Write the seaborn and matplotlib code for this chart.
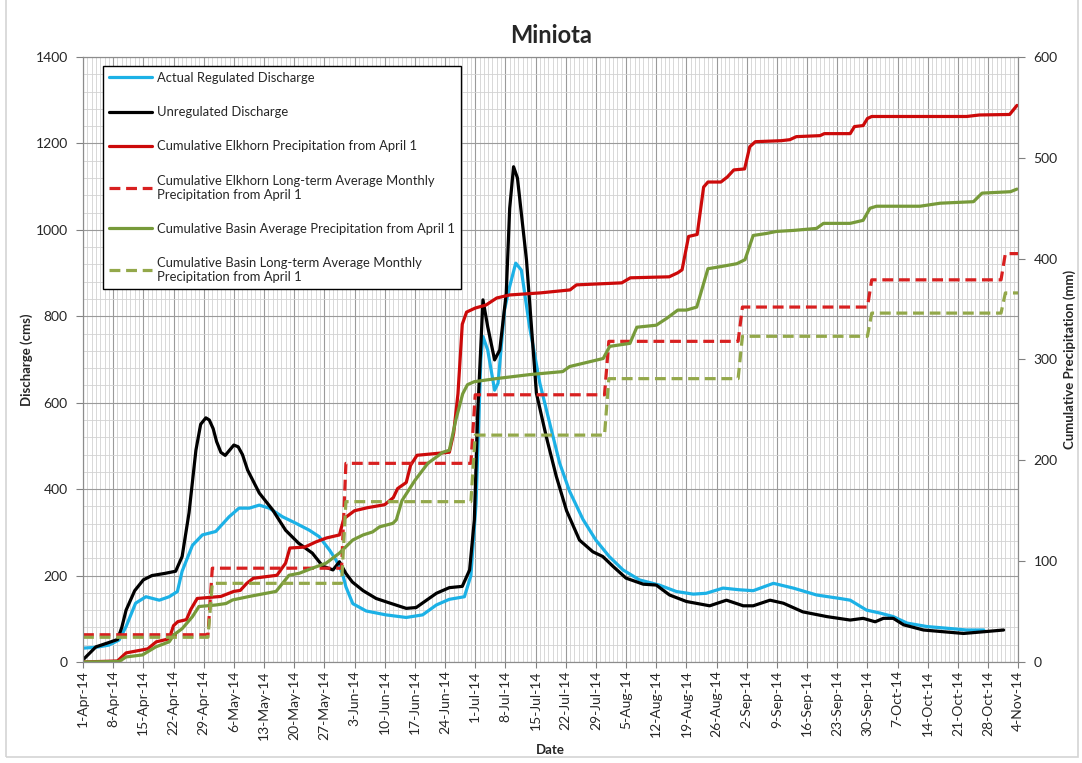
import pandas as pd
import matplotlib
matplotlib.use("Agg")
import matplotlib.pyplot as plt
import matplotlib.dates as mdates
from matplotlib.ticker import MultipleLocator
from matplotlib.patches import Rectangle
import seaborn as sns

# === Data (x = days after 1-Apr-14) ===
start = pd.Timestamp("2014-04-01")
series_end = "2014-11-04"

reg_days = [0, 3, 6, 8.4, 10, 12.2, 14.6, 17.7, 20, 21.9, 23, 25.4, 27.7, 30.8, 33.9, 36.2,
            38.6, 40.9, 43.2, 46.3, 49.4, 52.5, 54.8, 57.2, 58.7, 60.2, 61, 62.6, 65.7, 70.3,
            75, 78.8, 82, 85, 88.5, 90, 91.2, 92.3, 92.8, 93.9, 95.5, 96.3, 97.8, 99, 100.4,
            101.7, 103.6, 106, 108.3, 110.6, 112.9, 116, 119, 122.1, 125.3, 129.1, 133.7,
            137.7, 141.6, 144.6, 148.5, 152.4, 155.5, 160.2, 164.8, 170.2, 175.6, 178, 181.8,
            185, 188, 191.2, 195.8, 200.5, 205, 209]
reg_cms = [32, 34, 39, 51, 82, 136, 151, 143, 151, 163, 210, 270, 294, 302, 336, 356,
           356, 363, 356, 336, 321, 305, 290, 259, 236, 205, 174, 135, 118, 109,
           103, 109, 132, 145, 151, 200, 367, 700, 753, 722, 629, 645, 815, 869, 923,
           907, 776, 645, 552, 460, 395, 330, 282, 244, 213, 190, 178,
           163, 157, 159, 171, 167, 165, 182, 171, 155, 147, 143, 120,
           113, 105, 90, 82, 78, 74, 74]

unreg_days = [0, 1.5, 3, 6, 8, 9, 10, 12, 14, 16, 19, 21.5, 23, 24.6, 26.2, 27.3, 28.5, 29.3,
              30.2, 31, 32, 33, 34, 35, 36, 37, 38.2, 40.9, 44, 47, 50, 53.2, 55.6, 58, 59.5,
              61, 62.5, 65, 68, 71, 75, 77.3, 80, 82, 85, 88, 89.7, 90.8, 91.6, 92.8, 93.9,
              95.5, 96.7, 98.2, 99, 99.9, 100.8, 102.9, 105.2, 107.5, 109.8, 112.2, 115.2,
              118.3, 120.6, 123, 126, 130, 133, 136.1, 140, 145.4, 149.3, 153.2, 155.5, 159.4,
              162.5, 167, 172.6, 178, 181, 183.8, 185.7, 188, 190.4, 195, 199.6, 204.3, 209,
              213.6]
unreg_cms = [5, 20, 35, 45, 52, 80, 120, 165, 190, 200, 205, 210, 244, 345, 490, 550, 565, 560,
             540, 510, 485, 478, 490, 502, 498, 480, 444, 391, 352, 305, 275, 252, 222, 213, 232,
             205, 185, 165, 147, 137, 124, 126, 145, 159, 172, 175, 213, 329, 580, 838, 776,
             699, 722, 853, 1050, 1146, 1120, 930, 622, 521, 430, 350, 282,
             255, 244, 221, 194, 180, 178, 155, 140, 130, 143, 130, 130, 143,
             136, 116, 105, 97, 101, 93, 101, 101, 86, 74, 70, 66, 70,
             74]

elk_days = [0, 8, 10, 15, 17, 20, 21, 22, 24, 25, 26.5, 32, 35, 36.5, 38, 39.5, 45, 47, 48,
            51.5, 54, 56.5, 59.5, 60.5, 63, 66, 70, 72, 73, 75, 76, 77.5, 85, 86, 87, 88, 89,
            91, 93.5, 96, 99, 106, 113, 114.5, 125, 127, 136, 138, 139, 140.5, 142.5, 144,
            145, 148, 149.5, 151, 153.5, 154.7, 156, 162, 164, 165.5, 171, 172, 178, 179,
            181, 182, 183, 205, 208, 215, 216.7]
elk_mm = [0, 1, 9, 13, 20, 23, 36, 40, 42, 52, 63, 65, 70, 71, 78, 83, 86, 98, 113,
          114, 119, 123, 126, 142, 150, 153, 156, 163, 172, 178, 195, 205, 208, 227, 266, 335, 347,
          351, 354, 361, 364, 366, 369, 374, 376, 381, 382, 386, 389, 422, 424, 471,
          476, 476, 481, 488, 489, 511, 516, 517, 518, 521, 522, 524, 524, 531,
          532, 539, 541, 541, 542.5, 543, 552]

basin_days = [0, 8.4, 10, 13.8, 16.9, 20, 21.1, 23, 25.4, 26.9, 30.8, 33.2, 34.7, 38.6, 44.8,
              47.8, 50.2, 53.2, 56.4, 59.5, 62.6, 65, 67.2, 68.8, 71.9, 72.7, 74, 77, 80, 83.5,
              85, 86.5, 88.1, 89.2, 90.8, 95.8, 103.6, 111.3, 112.9, 120.7, 122.2, 126.9, 128.5,
              133, 135.5, 138, 140, 142.4, 145, 147.8, 151.7, 153.6, 155.5, 158.6, 160.9, 164.8,
              170.2, 171.8, 178, 181, 182.6, 184.1, 194.2, 198.9, 206.6, 208.6, 215.2, 216.7]
basin_mm = [0, 0.5, 5, 7, 15, 20, 27, 33, 45, 55, 56.5, 58, 61.5, 65, 70,
            86, 88, 93, 98, 108, 121, 126, 129, 134, 137.5, 141, 160, 180, 197, 208,
            210, 240, 266, 275, 278, 281, 285, 288, 293, 301, 313, 316, 332,
            334, 341, 349, 349, 352, 390, 392, 395, 399, 423, 425, 427, 428,
            430, 435, 435, 438, 450, 452, 452, 455, 456.5, 465, 466.4, 469]

month_starts = ["2014-04-01", "2014-05-01", "2014-06-01", "2014-07-01",
                "2014-08-01", "2014-09-01", "2014-10-01", "2014-11-01"]
elk_lt_mm = [27, 93, 197, 265, 318, 352, 379, 405]
basin_lt_mm = [24.5, 78, 159, 225, 281, 323, 346, 366]

legend_labels = ["Actual Regulated Discharge",
                 "Unregulated Discharge",
                 "Cumulative Elkhorn Precipitation from April 1",
                 "Cumulative Elkhorn Long-term Average Monthly\nPrecipitation from April 1",
                 "Cumulative Basin Average Precipitation from April 1",
                 "Cumulative Basin Long-term Average Monthly\nPrecipitation from April 1"]


def to_dates(days):
    return start + pd.to_timedelta(days, unit="D")


def monthly_steps(values):
    # each month's value held to its last day, jump on the 1st
    starts = pd.to_datetime(month_starts)
    ends = list(starts[1:] - pd.Timedelta(days=1)) + [pd.Timestamp(series_end)]
    x, y = [], []
    for s, e, v in zip(starts, ends, values):
        x += [s, e]
        y += [v, v]
    return pd.DataFrame({"date": x, "mm": y})


# === Style ===
sns.set_theme(style="white")
plt.rcParams["font.family"] = ["Lato", "DejaVu Sans"]

BLUE = "#1cb1e6"
RED = "#cc0a0a"
RED_D = "#d82020"
GREEN = "#779a3a"
GREEN_D = "#93a84a"
LW = 2.3
DASH = (0, (3.4, 1.8))

fig = plt.figure(figsize=(10.82, 7.63), dpi=100)
ax = fig.add_axes([0.0767, 0.1324, 0.8644, 0.7929])
ax2 = ax.twinx()

# === Discharge (left axis) ===
sns.lineplot(x=to_dates(reg_days), y=reg_cms, ax=ax, color=BLUE, lw=LW, legend=False)
sns.lineplot(x=to_dates(unreg_days), y=unreg_cms, ax=ax, color="black", lw=LW, legend=False)

# === Precipitation (right axis) ===
elk_lt = monthly_steps(elk_lt_mm)
basin_lt = monthly_steps(basin_lt_mm)
sns.lineplot(x=to_dates(elk_days), y=elk_mm, ax=ax2, color=RED, lw=LW, legend=False)
sns.lineplot(data=elk_lt, x="date", y="mm", ax=ax2, color=RED_D, lw=LW, linestyle=DASH, legend=False)
sns.lineplot(x=to_dates(basin_days), y=basin_mm, ax=ax2, color=GREEN, lw=LW, legend=False)
sns.lineplot(data=basin_lt, x="date", y="mm", ax=ax2, color=GREEN_D, lw=LW, linestyle=DASH, legend=False)

# === Axes ===
ax.set_xlim(start, pd.Timestamp(series_end))
ax.set_ylim(0, 1400)
ax2.set_ylim(0, 600)
ax.yaxis.set_major_locator(MultipleLocator(200))
ax.yaxis.set_minor_locator(MultipleLocator(40))
ax2.yaxis.set_major_locator(MultipleLocator(100))
ax.xaxis.set_major_locator(mdates.WeekdayLocator(byweekday=mdates.TU))
ax.xaxis.set_minor_locator(mdates.DayLocator())
ax.xaxis.set_major_formatter(mdates.DateFormatter("%-d-%b-%y"))

ax.set_axisbelow(True)
ax.grid(which="major", color="#9a9a9a", lw=0.8)
ax.grid(which="minor", color="#d2d2d2", lw=0.6)
ax2.grid(False)

ax.tick_params(axis="x", which="major", bottom=True, direction="out", length=4, width=0.8,
               color="#808080", labelsize=10, rotation=90, pad=2)
ax.tick_params(axis="y", which="major", left=True, direction="out", length=5, width=0.8,
               color="#808080", labelsize=10, pad=6)
ax.tick_params(which="minor", length=0)
ax2.tick_params(axis="y", which="major", right=True, direction="out", length=5, width=0.8,
                color="#808080", labelsize=10, pad=6)
for a in (ax, ax2):
    for sp in a.spines.values():
        sp.set_color("#8c8c8c")
        sp.set_linewidth(0.8)

ax.set_xlabel("Date", fontsize=9.5, fontweight="bold", labelpad=3)
ax.set_ylabel("Discharge (cms)", fontsize=9.5, fontweight="bold", labelpad=2)
ax2.set_ylabel("Cumulative Precipitation (mm)", fontsize=9.5, fontweight="bold", labelpad=4)
ax.set_title("Miniota", fontsize=17, fontweight="bold", pad=10)

# === Legend ===
handles = ax.get_lines() + ax2.get_lines()
leg = ax2.legend(handles, legend_labels, loc="upper left", bbox_to_anchor=(0.0214, 0.985),
                 frameon=True, fancybox=False, edgecolor="black", framealpha=1,
                 fontsize=9.4, handlelength=3.3, handletextpad=0.4, labelspacing=1.7,
                 borderpad=0.45, borderaxespad=0)
leg.get_frame().set_linewidth(1.0)

# chart area border
fig.patches.append(Rectangle((6 / 1082, 6 / 763), 1072 / 1082, 1.0, transform=fig.transFigure,
                             fill=False, edgecolor="#d4d4d4", lw=1.2))

fig.savefig("out.png", dpi=100)
